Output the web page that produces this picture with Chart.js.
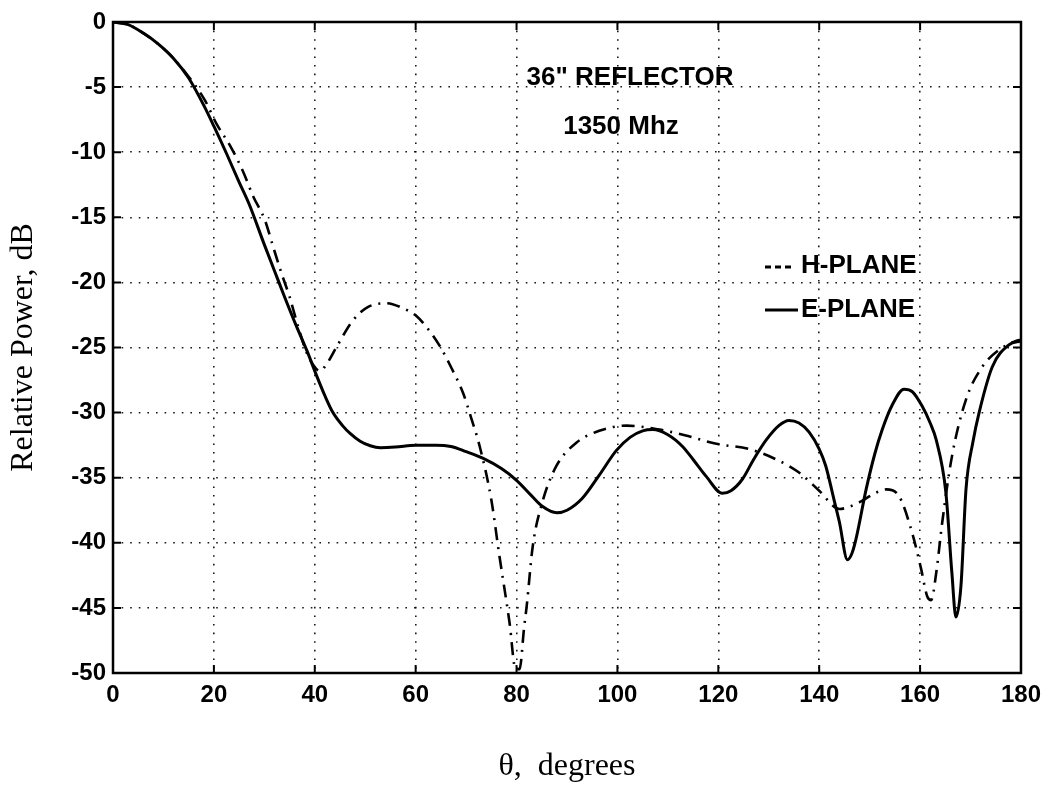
<!DOCTYPE html>
<html>
<head>
<meta charset="utf-8">
<script src="https://cdn.jsdelivr.net/npm/chart.js@4.4.1/dist/chart.umd.min.js"></script>
<style>
  html, body { margin: 0; padding: 0; background: #ffffff; }
  #wrap { width: 1049px; height: 788px; }
</style>
</head>
<body>
<div id="wrap"><canvas id="c" width="1049" height="788"></canvas></div>
<script>
// ---- data ----
const thetaE = [0, 3, 6, 9, 12, 15, 18, 20, 22.5, 25, 27, 30, 32, 34, 36.4, 38.5, 40.4, 42, 43.6, 45.5, 47, 49, 51, 53, 56, 60, 64, 67, 70, 73.3, 77, 80, 83, 85.1, 88, 90, 93, 96.4, 99.8, 102.5, 105, 107, 110, 112.9, 115, 117.6, 120.8, 122.5, 124.8, 127, 129.5, 132, 134, 136, 138, 140, 141.3, 143, 144, 145.6, 146.5, 147.3, 149.3, 151, 152.5, 154.5, 156.8, 158.5, 160.4, 162, 163.2, 165.1, 166.3, 167.1, 168.1, 169.1, 170.5, 171.7, 174.3, 177.6, 180];
const powerE = [0, -0.2, -0.85, -1.7, -2.8, -4.3, -6.4, -8.0, -10.1, -12.3, -14.0, -17.1, -19.1, -21.1, -23.4, -25.3, -27.2, -28.7, -30.0, -31.0, -31.6, -32.2, -32.55, -32.7, -32.65, -32.5, -32.5, -32.6, -33.0, -33.5, -34.3, -35.2, -36.4, -37.2, -37.7, -37.5, -36.6, -34.8, -32.9, -31.9, -31.4, -31.3, -31.7, -32.6, -33.6, -34.9, -36.2, -36.0, -35.1, -33.6, -32.1, -31.0, -30.6, -30.8, -31.5, -32.8, -34.1, -36.8, -38.4, -41.3, -40.8, -39.7, -35.9, -33.2, -31.3, -29.4, -28.2, -28.4, -29.5, -30.8, -32.1, -36.1, -42.3, -45.7, -43.3, -35.9, -32.2, -30.0, -26.5, -24.8, -24.5];

const thetaH = [0, 3, 6, 9, 12, 15, 18.2, 20.5, 23.5, 25.8, 27.8, 30.1, 31.7, 33.4, 35, 36.7, 38.4, 40, 41, 42.3, 44.4, 47.6, 50.5, 54.2, 57, 60.2, 62.5, 64.8, 67, 69.4, 71, 72.7, 75, 76.6, 78.6, 79.8, 80.6, 81.5, 82, 83.2, 85.1, 87.9, 91.9, 96.4, 101.8, 108.3, 114, 119.6, 126.1, 131.5, 136, 140, 144, 147.9, 151, 153.3, 155.8, 158.4, 160.2, 161.4, 162.2, 163.2, 164.4, 166.3, 169.1, 172.3, 175.6, 179, 180];
const powerH = [0, -0.2, -0.85, -1.7, -2.8, -4.2, -6.0, -7.8, -9.7, -11.5, -13.4, -15.2, -17.2, -19.3, -21.1, -23.4, -25.4, -26.5, -26.8, -26.3, -24.9, -22.9, -21.9, -21.6, -21.9, -22.6, -23.6, -24.9, -26.5, -28.5, -30.4, -32.6, -36.7, -41.0, -46.1, -49.7, -49.7, -46.5, -44.9, -40.3, -36.9, -34.1, -32.3, -31.4, -31.0, -31.3, -31.8, -32.4, -32.8, -33.6, -34.6, -36.0, -37.4, -36.9, -36.2, -35.9, -36.4, -39.2, -42.0, -44.1, -44.4, -42.3, -38.4, -33.4, -29.0, -26.5, -25.2, -24.5, -24.4];

const xTicks = [0, 20, 40, 60, 80, 100, 120, 140, 160, 180];
const yTicks = [0, -5, -10, -15, -20, -25, -30, -35, -40, -45, -50];

const seriesNames = ['H-PLANE', 'E-PLANE'];
const titleLines = ['36" REFLECTOR', '1350 Mhz'];
const xTitle = 'θ,  degrees';
const yTitle = 'Relative Power, dB';

const toXY = (xs, ys) => xs.map((x, i) => ({ x: x, y: ys[i] }));

const TICK_FONT = { family: '"Liberation Sans", Arial, sans-serif', size: 24, weight: 'bold' };
const TITLE_FONT = { family: '"Liberation Serif", "Times New Roman", serif', size: 32, weight: 'normal' };

const framePlugin = {
  id: 'frame',
  afterDraw(chart) {
    const ctx = chart.ctx;
    const a = chart.chartArea;
    const xs = chart.scales.x, ys = chart.scales.y;
    ctx.save();
    ctx.strokeStyle = '#000';
    ctx.setLineDash([]);
    // inward ticks
    ctx.lineWidth = 2;
    const tl = 8;
    xTicks.forEach(v => {
      const px = xs.getPixelForValue(v);
      ctx.beginPath();
      ctx.moveTo(px, a.bottom); ctx.lineTo(px, a.bottom - tl);
      ctx.moveTo(px, a.top); ctx.lineTo(px, a.top + tl);
      ctx.stroke();
    });
    yTicks.forEach(v => {
      const py = ys.getPixelForValue(v);
      ctx.beginPath();
      ctx.moveTo(a.left, py); ctx.lineTo(a.left + tl, py);
      ctx.moveTo(a.right, py); ctx.lineTo(a.right - tl, py);
      ctx.stroke();
    });
    // box
    ctx.lineWidth = 2.5;
    ctx.strokeRect(a.left, a.top, a.right - a.left, a.bottom - a.top);

    // annotation text
    ctx.fillStyle = '#000';
    ctx.font = 'bold 26px "Liberation Sans", Arial, sans-serif';
    ctx.textAlign = 'center';
    ctx.textBaseline = 'alphabetic';
    ctx.fillText(titleLines[0], 630, 85);
    ctx.fillText(titleLines[1], 621, 134);

    // legend
    ctx.textAlign = 'left';
    ctx.textBaseline = 'middle';
    ctx.fillText(seriesNames[0], 801, 266);
    ctx.fillText(seriesNames[1], 801, 310);
    ctx.lineWidth = 3;
    ctx.setLineDash([6, 4]);
    ctx.beginPath(); ctx.moveTo(765, 267); ctx.lineTo(793, 267); ctx.stroke();
    ctx.setLineDash([]);
    ctx.beginPath(); ctx.moveTo(765, 310); ctx.lineTo(798, 310); ctx.stroke();
    ctx.restore();
  }
};

new Chart(document.getElementById('c'), {
  type: 'line',
  data: {
    datasets: [
      {
        label: seriesNames[0],
        data: toXY(thetaH, powerH),
        borderColor: '#000',
        borderWidth: 2.6,
        borderDash: [13, 7, 2, 7],
        pointRadius: 0,
        cubicInterpolationMode: 'monotone',
        fill: false
      },
      {
        label: seriesNames[1],
        data: toXY(thetaE, powerE),
        borderColor: '#000',
        borderWidth: 3,
        pointRadius: 0,
        cubicInterpolationMode: 'monotone',
        fill: false
      }
    ]
  },
  options: {
    responsive: false,
    animation: false,
    devicePixelRatio: 1,
    layout: { padding: { top: 22, right: 27, left: 0, bottom: 0 } },
    plugins: {
      legend: { display: false },
      tooltip: { enabled: false }
    },
    scales: {
      x: {
        type: 'linear',
        min: 0, max: 180,
        afterFit(s) { s.height = 115; },
        afterBuildTicks(s) { s.ticks = xTicks.map(v => ({ value: v })); },
        grid: { color: 'rgba(0,0,0,0.9)', lineWidth: 1.6, drawTicks: false },
        border: { display: false, dash: [1.6, 7] },
        ticks: { color: '#000', font: TICK_FONT, padding: 8, maxRotation: 0 },
        title: { display: true, text: xTitle, color: '#000', font: TITLE_FONT, padding: { top: 0, bottom: 2 } }
      },
      y: {
        type: 'linear',
        min: -50, max: 0,
        afterFit(s) { s.width = 113; },
        afterBuildTicks(s) { s.ticks = yTicks.map(v => ({ value: v })); },
        grid: { color: 'rgba(0,0,0,0.9)', lineWidth: 1.6, drawTicks: false },
        border: { display: false, dash: [1.6, 7] },
        ticks: { color: '#000', font: TICK_FONT, padding: 7 },
        title: { display: true, text: yTitle, color: '#000', font: TITLE_FONT, padding: { top: 4, bottom: 0 } }
      }
    }
  },
  plugins: [framePlugin]
});
</script>
</body>
</html>
